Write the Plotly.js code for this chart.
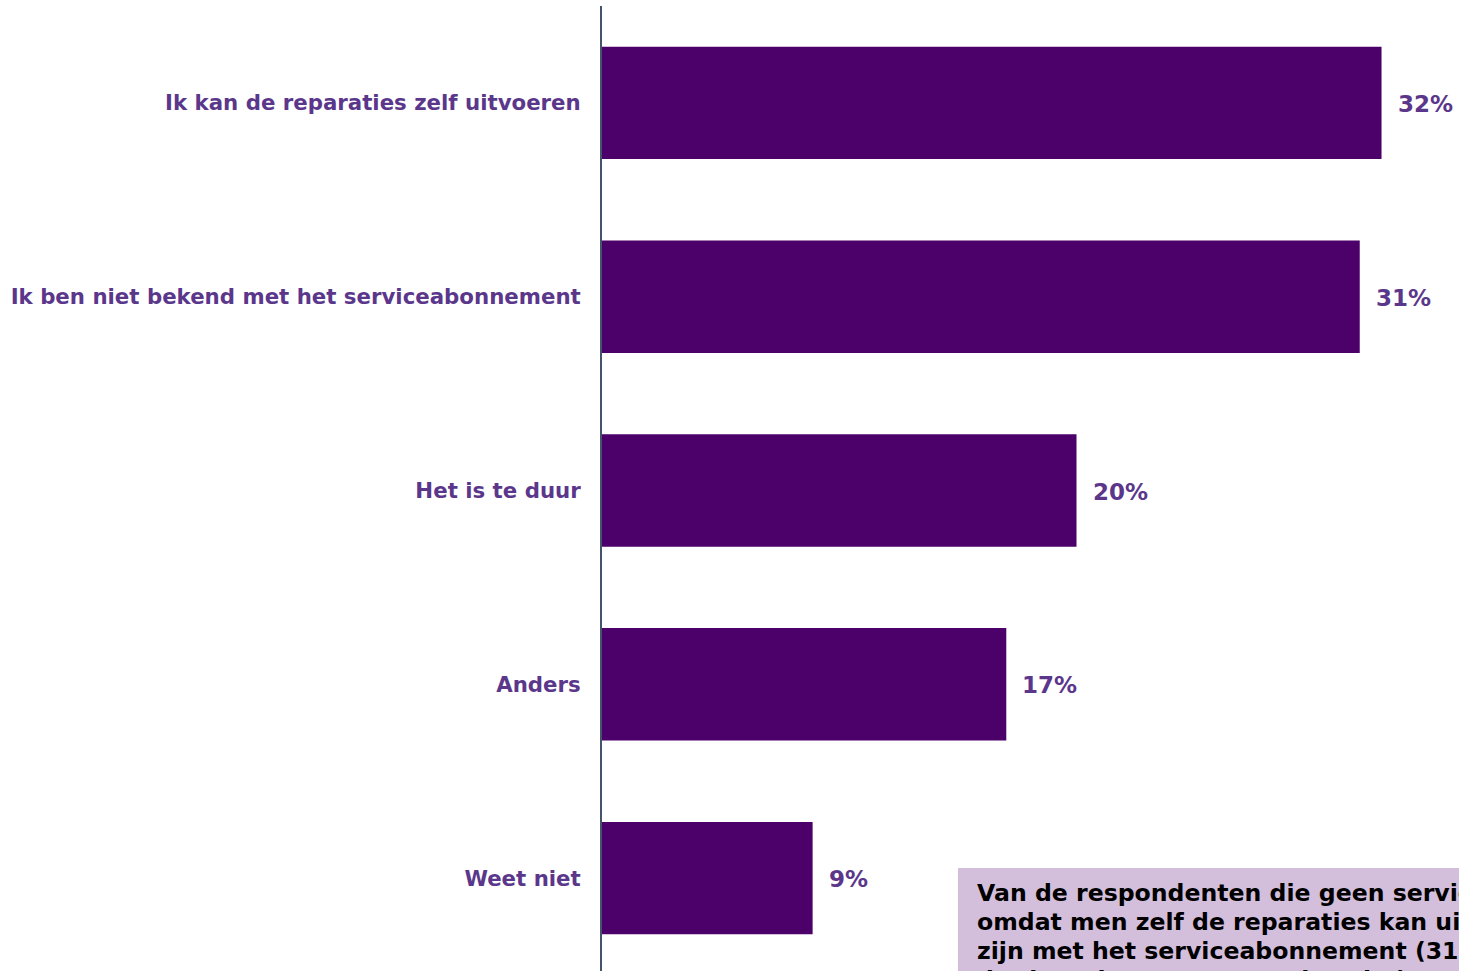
<!DOCTYPE html>
<html>
<head>
<meta charset="utf-8">
<script src="https://cdn.plot.ly/plotly-3.0.1.min.js"></script>
<style>
html,body{margin:0;padding:0;overflow:hidden;background:#fff;}
#chart{width:1459px;height:975px;}
</style>
</head>
<body>
<div id="chart"></div>
<script>
var categories = [
  "Ik kan de reparaties zelf uitvoeren",
  "Ik ben niet bekend met het serviceabonnement",
  "Het is te duur",
  "Anders",
  "Weet niet"
];
var values = [32.2, 31.3, 19.6, 16.7, 8.7];
var valueLabels = ["32%", "31%", "20%", "17%", "9%"];
var noteLines = [
  "Van de respondenten die geen serviceabonnement hebben, is dit vooral",
  "omdat men zelf de reparaties kan uitvoeren (32%) of niet bekend",
  "zijn met het serviceabonnement (31%). Een vijfde deel geeft aan",
  "dat het abonnement te duur is (20%)."
];

var purpleBar = "#4C006A";
var purpleText = "#5B378C";
var font = "Verdana, 'DejaVu Sans', sans-serif";

var trace = {
  type: "bar",
  orientation: "h",
  y: categories,
  x: values,
  marker: {color: purpleBar},
  width: 0.58,
  hoverinfo: "none"
};

var anns = values.map(function(v, i){
  return {
    x: v, y: categories[i], xref: "x", yref: "y",
    text: "<b>" + valueLabels[i] + "</b>",
    showarrow: false, xanchor: "left", xshift: 14, yshift: -1,
    font: {family: font, size: 23, color: purpleText}
  };
});

var W = 857, H = 969, L = 602, T = 6;
function px(x){ return (x - L) / W; }
function py(y){ return 1 - (y - T) / H; }

noteLines.forEach(function(line, i){
  anns.push({
    xref: "paper", yref: "paper",
    x: px(975), y: py(893 + 29 * i),
    xanchor: "left", yanchor: "middle", align: "left",
    showarrow: false,
    text: "<b>" + line + "</b>",
    font: {family: font, size: 23.6, color: "#000000"}
  });
});

var layout = {
  width: 1459, height: 975,
  margin: {l: L, r: 0, t: T, b: 0},
  paper_bgcolor: "#ffffff",
  plot_bgcolor: "#ffffff",
  showlegend: false,
  xaxis: {
    range: [0, 35.4],
    showgrid: false, zeroline: false, showticklabels: false, showline: false, ticks: ""
  },
  yaxis: {
    autorange: "reversed",
    showgrid: false, zeroline: false,
    showline: true, linecolor: "#44546A", linewidth: 2,
    ticks: "", ticklabelstandoff: 15,
    tickfont: {family: font, size: 21.3, color: purpleText, weight: "bold"}
  },
  shapes: [{
    type: "rect", xref: "paper", yref: "paper",
    x0: px(958), x1: 1.5, y0: -0.2, y1: py(868),
    fillcolor: "#D3BFDB", line: {width: 0}, layer: "above"
  }],
  annotations: anns
};

Plotly.newPlot("chart", [trace], layout, {displayModeBar: false, staticPlot: true});
</script>
</body>
</html>
